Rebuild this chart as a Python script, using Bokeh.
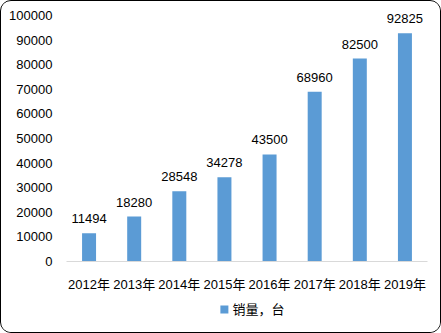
from bokeh.plotting import figure
from bokeh.layouts import column
from bokeh.models import ColumnDataSource, LabelSet, NumeralTickFormatter
from bokeh.core.properties import value
from bokeh.embed import file_html
from bokeh.resources import INLINE

years = ["2012年", "2013年", "2014年", "2015年", "2016年", "2017年", "2018年", "2019年"]
sales = [11494, 18280, 28548, 34278, 43500, 68960, 82500, 92825]
series_name = "销量，台"
y_ticks = list(range(0, 100001, 10000))

FONT = "'Liberation Sans', 'Noto Sans CJK SC', sans-serif"
BLUE = "#5B9BD5"

src = ColumnDataSource(dict(x=years, y=sales, t=[str(v) for v in sales]))

# frame extends a bit above the top tick so the highest data label is not clipped
p = figure(x_range=years, y_range=(0, 105700), width=439, height=296,
           output_backend="svg", toolbar_location=None,
           min_border_left=65, min_border_right=13, min_border_top=0, min_border_bottom=36)
p.outline_line_color = None
p.background_fill_color = "white"
p.border_fill_color = "white"

r = p.vbar(x="x", top="y", width=0.31, source=src, color=BLUE, line_color=None)

labels = LabelSet(x="x", y="y", text="t", source=src, y_offset=10, text_align="center",
                  text_baseline="alphabetic", text_font=value(FONT), text_font_size=value("13px"),
                  text_color="#000")
p.add_layout(labels)

p.xgrid.grid_line_color = None
p.ygrid.grid_line_color = None

p.yaxis.ticker = y_ticks
p.yaxis.formatter = NumeralTickFormatter(format="0")
p.yaxis.axis_line_color = None
p.yaxis.major_tick_line_color = None
p.yaxis.minor_tick_line_color = None
p.yaxis.major_label_text_font = FONT
p.yaxis.major_label_text_font_size = "13px"
p.yaxis.major_label_text_color = "#000"
p.yaxis.major_label_standoff = 8

p.xaxis.axis_line_color = "#D9D9D9"
p.xaxis.axis_line_width = 1
p.xaxis.major_tick_line_color = None
p.xaxis.minor_tick_line_color = None
p.xaxis.major_label_text_font = FONT
p.xaxis.major_label_text_font_size = "13px"
p.xaxis.major_label_text_color = "#000"
p.xaxis.major_label_standoff = 9

# legend strip
leg = figure(width=439, height=35, x_range=(0, 439), y_range=(0, 35),
             output_backend="svg", toolbar_location=None,
             min_border=0, min_border_left=0, min_border_right=0, min_border_top=0, min_border_bottom=0)
leg.axis.visible = False
leg.grid.visible = False
leg.outline_line_color = None
leg.border_fill_color = "white"
leg_src = ColumnDataSource(dict(x=[192], y=[23], t=[series_name]))
leg.scatter(x="x", y="y", source=leg_src, marker="square", size=8, color=BLUE, line_color=None)
leg.text(x="x", y="y", text="t", source=leg_src, x_offset=8, text_baseline="middle",
         text_align="left", text_font=value(FONT), text_font_size=value("13px"), text_color="#000")

lay = column(p, leg, spacing=0)
lay.styles = {"border": "1px solid #000", "border-radius": "11px", "overflow": "hidden",
              "background-color": "white"}

open("out.html", "w").write(file_html(lay, INLINE))
